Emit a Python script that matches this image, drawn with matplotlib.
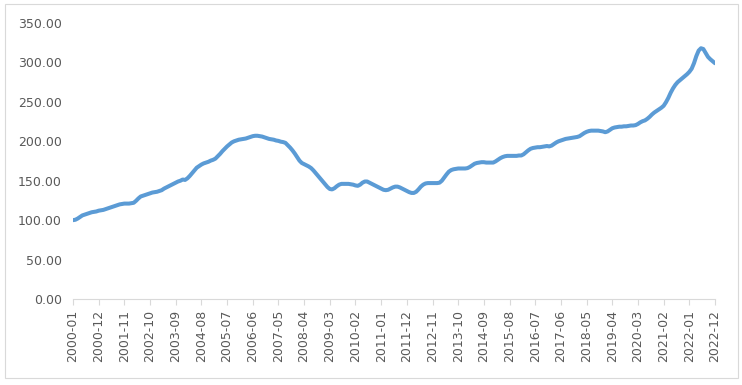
import numpy as np
import matplotlib.pyplot as plt
from matplotlib.patches import Rectangle

# monthly index values, 2000-01 .. 2022-12
y2000 = [100, 100.5, 102, 104, 106, 107, 108, 109, 110, 110.5, 111, 112]
y2001 = [112.5, 113, 114, 115, 116, 117, 118, 119, 120, 120.5, 121, 121]
y2002 = [121, 121.5, 122, 124.5, 127.5, 130, 131, 132, 133, 134, 135, 135.5]
y2003 = [136, 137, 138, 140, 141.5, 143, 144.5, 146, 147.5, 149, 150, 151.5]
y2004 = [151, 153, 156, 159.5, 163, 166.5, 168.5, 170.5, 172, 173, 174, 175.5]
y2005 = [176.5, 178, 181, 184, 187.5, 190.5, 193.5, 196, 198.5, 200, 201, 202]
y2006 = [202.5, 203, 203.5, 204.5, 205.5, 206.5, 207, 207, 206.5, 206, 205, 204]
y2007 = [203, 202.5, 202, 201, 200.5, 199.5, 199, 198, 195, 192, 188.5, 184.5]
y2008 = [180, 175.5, 172.5, 171, 169.5, 168, 166, 163, 159.5, 156, 152.5, 149]
y2009 = [145.5, 142, 139.5, 139, 140.5, 143, 145, 146, 146, 146, 146, 145.5]
y2010 = [145, 144, 143.5, 145, 147.5, 149, 149, 147.5, 146, 144.5, 143, 141.5]
y2011 = [140, 138.5, 138, 138.5, 140, 141.5, 142.5, 142.5, 141.5, 140, 138.5, 137]
y2012 = [135.5, 134.5, 134.5, 136, 139, 142.5, 145, 146.5, 147, 147, 147, 147]
y2013 = [147, 147.5, 150, 154, 158, 161.5, 163.5, 164.5, 165, 165.5, 165.5, 165.5]
y2014 = [165.5, 166, 167.5, 169.5, 171.5, 172.5, 173, 173.5, 173.5, 173, 173, 173]
y2015 = [173, 174.5, 176.5, 178.5, 180, 181, 181.5, 181.5, 181.5, 181.5, 181.5, 182]
y2016 = [182, 183.5, 186, 188.5, 190.5, 191.5, 192, 192.5, 192.5, 193, 193.5, 194]
y2017 = [193.5, 194.5, 196.5, 198.5, 200, 201, 202, 203, 203.5, 204, 204.5, 205]
y2018 = [205.5, 206.5, 208.5, 210.5, 212, 213, 213.5, 213.5, 213.5, 213.5, 213, 212.5]
y2019 = [211.5, 212.5, 214.5, 216.5, 217.5, 218, 218.5, 218.5, 219, 219, 219.5, 220]
y2020 = [220, 220.5, 222, 224, 225.5, 226.5, 228.5, 231, 234, 236.5, 238.5, 240.5]
y2021 = [242.5, 245, 249.5, 255, 261.5, 267, 271.5, 275, 277.5, 280, 282.5, 285]
y2022 = [288, 292, 299, 308, 315, 318, 317, 312, 307, 304, 301.5, 299]

values = (y2000 + y2001 + y2002 + y2003 + y2004 + y2005 + y2006 + y2007 + y2008
          + y2009 + y2010 + y2011 + y2012 + y2013 + y2014 + y2015 + y2016 + y2017
          + y2018 + y2019 + y2020 + y2021 + y2022)
months = [f"{y}-{m:02d}" for y in range(2000, 2023) for m in range(1, 13)]

fig = plt.figure(figsize=(7.42, 3.85), dpi=100)
ax = fig.add_axes([73 / 742, 1 - 299 / 385, (715 - 73) / 742, (299 - 23) / 385])

x = np.arange(len(values))
ax.plot(x, values, color="#5b9bd5", lw=2.9, solid_capstyle="round",
        solid_joinstyle="round")

ax.set_xlim(0, len(values) - 1)
ax.set_ylim(0, 350)
ax.set_yticks(np.arange(0, 351, 50))
ax.set_yticklabels([f"{v:.2f}" for v in np.arange(0, 351, 50)])
tick_pos = x[::11]
ax.set_xticks(tick_pos)
ax.set_xticklabels([months[i] for i in tick_pos], rotation=90)

for s in ["top", "right", "left"]:
    ax.spines[s].set_visible(False)
ax.spines["bottom"].set_color("#d9d9d9")
ax.spines["bottom"].set_linewidth(0.8)
ax.tick_params(axis="y", length=0, pad=8, labelsize=9, labelcolor="#595959")
ax.tick_params(axis="x", length=4, width=0.8, color="#d9d9d9", pad=4,
               labelsize=9, labelcolor="#595959")

# chart area border
fig.patches.append(Rectangle((5 / 742, 1 - 378 / 385), 733 / 742, 374 / 385,
                             transform=fig.transFigure, fill=False,
                             edgecolor="#d9d9d9", lw=0.8))

fig.savefig("out.png", dpi=100)
